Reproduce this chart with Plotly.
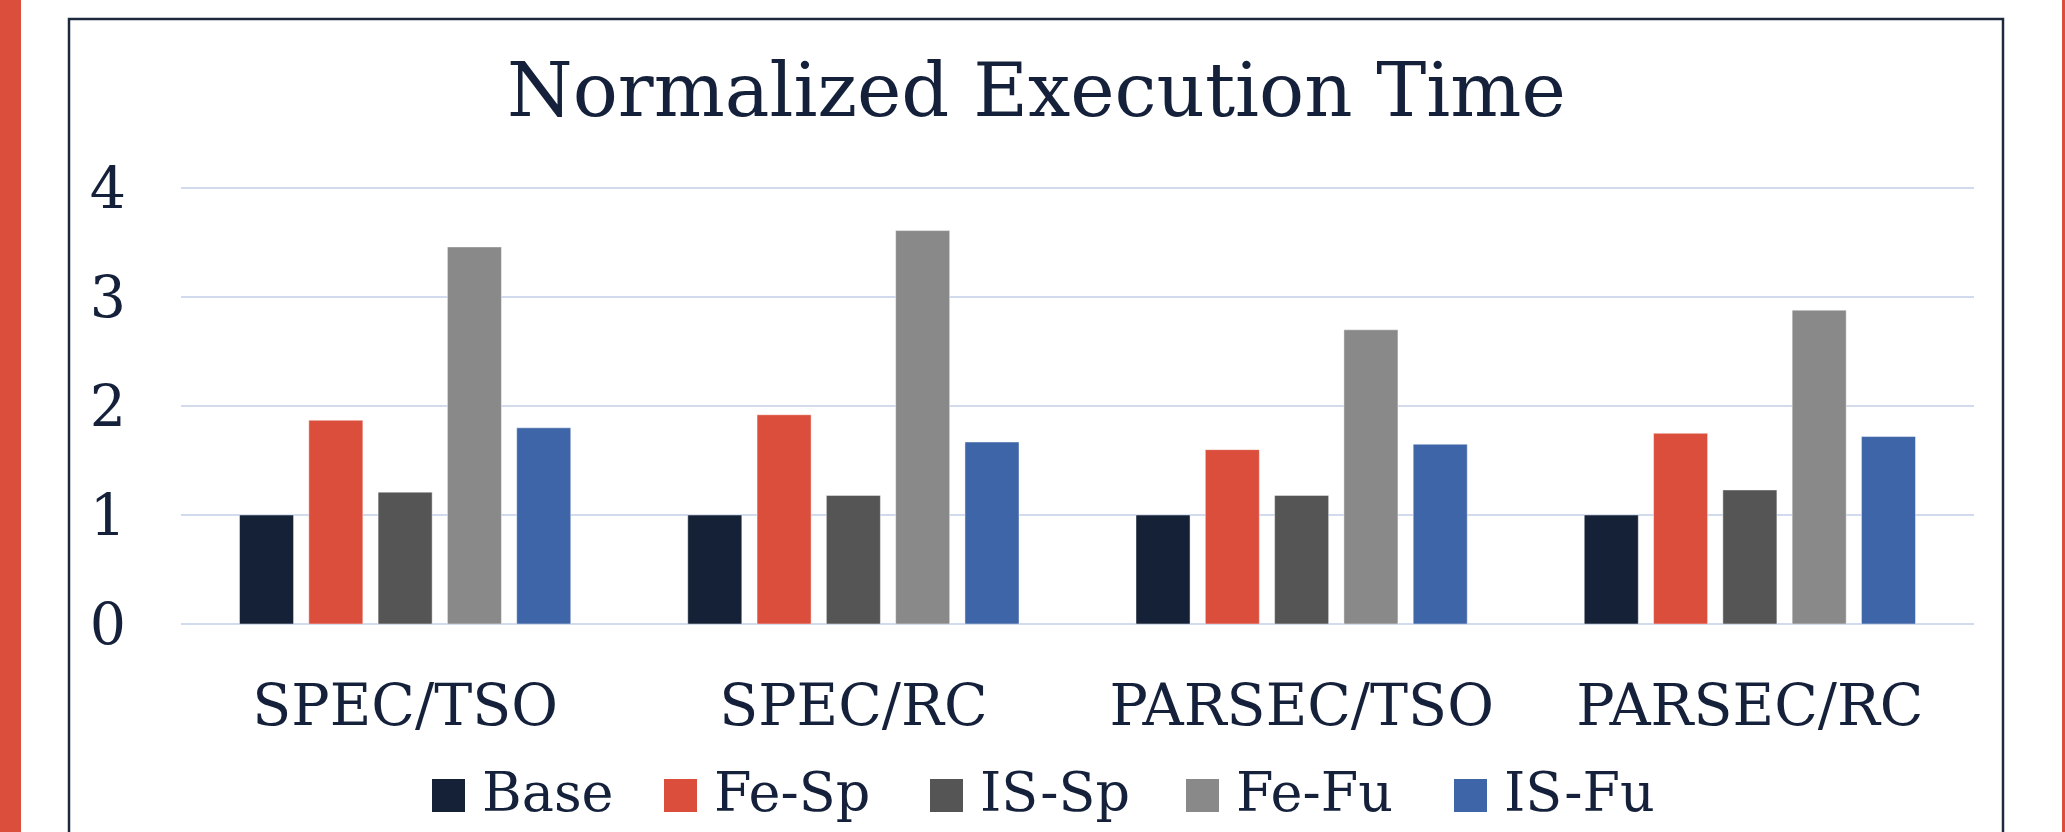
import plotly.graph_objects as go

# ---------------- data ----------------
categories = ["SPEC/TSO", "SPEC/RC", "PARSEC/TSO", "PARSEC/RC"]
series_names = ["Base", "Fe-Sp", "IS-Sp", "Fe-Fu", "IS-Fu"]
base = [1.00, 1.00, 1.00, 1.00]
fe_sp = [1.87, 1.92, 1.60, 1.75]
is_sp = [1.21, 1.18, 1.18, 1.23]
fe_fu = [3.46, 3.61, 2.70, 2.88]
is_fu = [1.80, 1.67, 1.65, 1.72]
y_ticks = [0, 1, 2, 3, 4]
title_text = "Normalized Execution Time"

series_values = [base, fe_sp, is_sp, fe_fu, is_fu]
colors = ["#152136", "#dc4e3c", "#555555", "#898989", "#3e65a8"]

# ---------------- layout constants (pixels) ----------------
W, H = 2065, 832
L, R, T, B = 181, 1974, 187, 624
TEXT = "#15213a"
FONT = "DejaVu Serif"


def px_x(px):
    return (px - L) / (R - L)


def px_y(py):
    return (B - py) / (B - T)


fig = go.Figure()
for name, vals, col in zip(series_names, series_values, colors):
    fig.add_trace(go.Bar(
        x=categories, y=vals, name=name, showlegend=False,
        marker=dict(color=col, line=dict(width=1, color="rgba(255,255,255,0.45)")),
    ))

shapes = []
# decorative stripes and frame
shapes.append(dict(type="rect", xref="paper", yref="paper",
                   x0=px_x(-5), x1=px_x(21), y0=px_y(900), y1=px_y(-20),
                   fillcolor="#dc4e3c", line=dict(width=0), layer="below"))
shapes.append(dict(type="rect", xref="paper", yref="paper",
                   x0=px_x(2062), x1=px_x(2075), y0=px_y(900), y1=px_y(-20),
                   fillcolor="#dc4e3c", line=dict(width=0), layer="below"))
shapes.append(dict(type="rect", xref="paper", yref="paper",
                   x0=px_x(69), x1=px_x(2003), y0=px_y(900), y1=px_y(19),
                   fillcolor="rgba(0,0,0,0)", line=dict(width=2.5, color="#1d2a3d"),
                   layer="below"))

annotations = []
annotations.append(dict(text=title_text, xref="paper", yref="paper",
                        x=px_x(1036), y=px_y(90), xanchor="center", yanchor="middle",
                        showarrow=False, font=dict(family=FONT, size=75, color=TEXT)))

# manual legend (large square swatches)
legend_x = [432, 664, 930, 1186, 1454]
SW = 33
for name, col, lx in zip(series_names, colors, legend_x):
    shapes.append(dict(type="rect", xref="paper", yref="paper",
                       x0=px_x(lx), x1=px_x(lx + SW), y0=px_y(812), y1=px_y(779),
                       fillcolor=col, line=dict(width=0)))
    annotations.append(dict(text=name, xref="paper", yref="paper",
                            x=px_x(lx + 48), y=px_y(792), xanchor="left", yanchor="middle",
                            showarrow=False, font=dict(family=FONT, size=54, color=TEXT)))

fig.update_layout(
    width=W, height=H,
    margin=dict(l=L, r=W - R, t=T, b=H - B, pad=0),
    paper_bgcolor="white", plot_bgcolor="white",
    barmode="group", bargap=0.227, bargroupgap=0.22,
    showlegend=False,
    shapes=shapes, annotations=annotations,
    font=dict(family=FONT, color=TEXT),
)
fig.update_xaxes(showgrid=False, showline=False, zeroline=False, ticks="",
                 tickfont=dict(family=FONT, size=57, color=TEXT),
                 ticklabelstandoff=43)
fig.update_yaxes(range=[0, 4.01], tickvals=y_ticks, showgrid=True,
                 gridcolor="#d1dbed", gridwidth=2,
                 zeroline=True, zerolinecolor="#d1dbed", zerolinewidth=2,
                 showline=False, ticks="",
                 tickfont=dict(family=FONT, size=57, color=TEXT),
                 ticklabelstandoff=54)

fig.write_html("out.html", config={"displayModeBar": False},
               post_script="document.body.style.margin='0';")
